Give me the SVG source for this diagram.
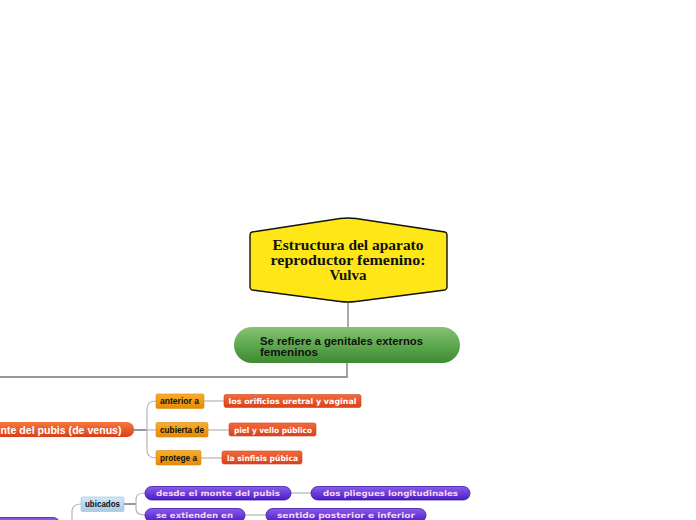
<svg xmlns="http://www.w3.org/2000/svg" width="696" height="520" viewBox="0 0 696 520">
<defs>
<linearGradient id="gGreen" x1="0" y1="0" x2="0" y2="1"><stop offset="0" stop-color="#86c274"/><stop offset="0.5" stop-color="#5ea84e"/><stop offset="1" stop-color="#3d8a33"/></linearGradient>
<linearGradient id="gRed" x1="0" y1="0" x2="0" y2="1"><stop offset="0" stop-color="#f7773f"/><stop offset="1" stop-color="#d8401a"/></linearGradient>
<linearGradient id="gOrange" x1="0" y1="0" x2="0" y2="1"><stop offset="0" stop-color="#f9ad2e"/><stop offset="1" stop-color="#e58a06"/></linearGradient>
<linearGradient id="gLeaf" x1="0" y1="0" x2="0" y2="1"><stop offset="0" stop-color="#f5693a"/><stop offset="1" stop-color="#d9421b"/></linearGradient>
<linearGradient id="gBlue" x1="0" y1="0" x2="0" y2="1"><stop offset="0" stop-color="#d3e7f6"/><stop offset="1" stop-color="#a9cbe6"/></linearGradient>
<linearGradient id="gPurple" x1="0" y1="0" x2="0" y2="1"><stop offset="0" stop-color="#8a5cf0"/><stop offset="1" stop-color="#4a1ec4"/></linearGradient>
</defs>
<style>
.c{fill:none;stroke:#b5b5b5;stroke-width:1.2}
.cd{fill:none;stroke:#777;stroke-width:1.5}
.tl{font-family:"Liberation Sans",Arial,sans-serif;font-weight:bold;font-size:8.5px;fill:#111}
.tw{font-family:"DejaVu Sans",sans-serif;font-weight:bold;font-size:7.8px;fill:#fff}
.tp{font-family:"DejaVu Sans",sans-serif;font-weight:bold;font-size:7.8px;fill:#f6d4f4}
.leaf{fill:url(#gLeaf);stroke:#c9441f;stroke-width:0.6}
.org{fill:url(#gOrange);stroke:#d98a10;stroke-width:0.6}
.pur{fill:url(#gPurple);stroke:#3a1aa0;stroke-width:0.8}
</style>
<rect width="696" height="520" fill="#fff"/>
<g id="connectors">
<line x1="348" y1="302" x2="348" y2="327" stroke="#555" stroke-width="1"/>
<path d="M347,363 L347,377 L0,377" fill="none" stroke="#999" stroke-width="1.8"/>
<line x1="134" y1="430" x2="147" y2="430" class="cd"/>
<path class="c" d="M147,430 L147,409 Q147,401 156,401"/>
<path class="c" d="M147,430 L156,430"/>
<path class="c" d="M147,430 L147,450 Q147,458 156,458"/>
<line class="c" x1="204" y1="401" x2="224" y2="401"/>
<line class="c" x1="208" y1="430" x2="229" y2="430"/>
<line class="c" x1="201" y1="458" x2="222" y2="458"/>
<path class="c" d="M60,527 L72,527 L72,512 Q72,504 81,504"/>
<line x1="124" y1="504" x2="136" y2="504" class="cd"/>
<path class="c" d="M136,504 L136,499 Q136,493 145,493"/>
<path class="c" d="M136,504 L136,509 Q136,515 145,515"/>
<line class="c" x1="291" y1="493" x2="311" y2="493"/>
<line class="c" x1="245" y1="515" x2="266" y2="515"/>
</g>
<g id="central">
<path d="M252,232 L340,218.5 Q348,217.5 356,218.5 L445,232 Q447,232.5 447,235 L447,287 Q447,289.5 445,290 L356,301.5 Q348,302.5 340,301.5 L252,290 Q250,289.5 250,287 L250,235 Q250,232.5 252,232 Z" fill="#ffe617" stroke="#111" stroke-width="1.4"/>
<g font-family="'Liberation Serif','Times New Roman',serif" font-weight="bold" font-size="14" fill="#111" text-anchor="middle">
<text x="348" y="250" textLength="151" lengthAdjust="spacingAndGlyphs">Estructura del aparato</text>
<text x="348" y="265" textLength="155" lengthAdjust="spacingAndGlyphs">reproductor femenino:</text>
<text x="348" y="280" textLength="37" lengthAdjust="spacingAndGlyphs">Vulva</text>
</g>
</g>
<g id="externos">
<rect x="234" y="327" width="226" height="36" rx="18" fill="url(#gGreen)"/>
<g font-family="'Liberation Sans',Arial,sans-serif" font-weight="bold" font-size="11" fill="#111">
<text x="260" y="345" textLength="163" lengthAdjust="spacingAndGlyphs">Se refiere a genitales externos</text>
<text x="260" y="356" textLength="58" lengthAdjust="spacingAndGlyphs">femeninos</text>
</g>
</g>
<g id="monte">
<rect x="-90" y="422" width="224" height="15" rx="7" fill="url(#gRed)"/>
<text x="0.5" y="433.5" font-family="'Liberation Sans',Arial,sans-serif" font-weight="bold" font-size="10.8" fill="#fff" textLength="121" lengthAdjust="spacingAndGlyphs">nte del pubis (de venus)</text>
</g>
<g id="anterior">
<rect class="org" x="156" y="394" width="48" height="14.5" rx="1.5"/>
<text class="tl" x="160" y="404" textLength="39" lengthAdjust="spacingAndGlyphs">anterior a</text>
</g>
<g id="cubierta">
<rect class="org" x="156" y="422.5" width="52" height="14.5" rx="1.5"/>
<text class="tl" x="160" y="432.5" textLength="44" lengthAdjust="spacingAndGlyphs">cubierta de</text>
</g>
<g id="protege">
<rect class="org" x="156" y="450.5" width="45" height="14.5" rx="1.5"/>
<text class="tl" x="160" y="460.5" textLength="37" lengthAdjust="spacingAndGlyphs">protege a</text>
</g>
<g id="orificios">
<rect class="leaf" x="224" y="394.5" width="137" height="13" rx="2"/>
<text class="tw" x="228.5" y="404" textLength="128" lengthAdjust="spacingAndGlyphs">los orificios uretral y vaginal</text>
</g>
<g id="piel">
<rect class="leaf" x="229" y="423" width="87" height="13" rx="2"/>
<text class="tw" x="234" y="432.5" textLength="78" lengthAdjust="spacingAndGlyphs">piel y vello público</text>
</g>
<g id="sinfisis">
<rect class="leaf" x="222" y="451" width="80" height="13" rx="2"/>
<text class="tw" x="227" y="460.5" textLength="71" lengthAdjust="spacingAndGlyphs">la sinfisis púbica</text>
</g>
<g id="labios">
<rect class="pur" x="-100" y="517.5" width="160" height="18" rx="7"/>
</g>
<g id="ubicados">
<rect x="81" y="497" width="43" height="14.5" rx="1.5" fill="url(#gBlue)" stroke="#9dbfd9" stroke-width="0.6"/>
<text class="tl" x="85" y="507" textLength="35" lengthAdjust="spacingAndGlyphs">ubicados</text>
</g>
<g id="desde">
<rect class="pur" x="145" y="486.5" width="146" height="13.5" rx="6.75"/>
<text class="tp" x="156" y="496" textLength="124" lengthAdjust="spacingAndGlyphs">desde el monte del pubis</text>
</g>
<g id="extienden">
<rect class="pur" x="145" y="508.5" width="100" height="13.5" rx="6.75"/>
<text class="tp" x="156" y="518" textLength="77" lengthAdjust="spacingAndGlyphs">se extienden en</text>
</g>
<g id="pliegues">
<rect class="pur" x="311" y="486.5" width="159" height="13.5" rx="6.75"/>
<text class="tp" x="323" y="496" textLength="135" lengthAdjust="spacingAndGlyphs">dos pliegues longitudinales</text>
</g>
<g id="sentido">
<rect class="pur" x="266" y="508.5" width="160" height="13.5" rx="6.75"/>
<text class="tp" x="277" y="518" textLength="138" lengthAdjust="spacingAndGlyphs">sentido posterior e inferior</text>
</g>
</svg>
